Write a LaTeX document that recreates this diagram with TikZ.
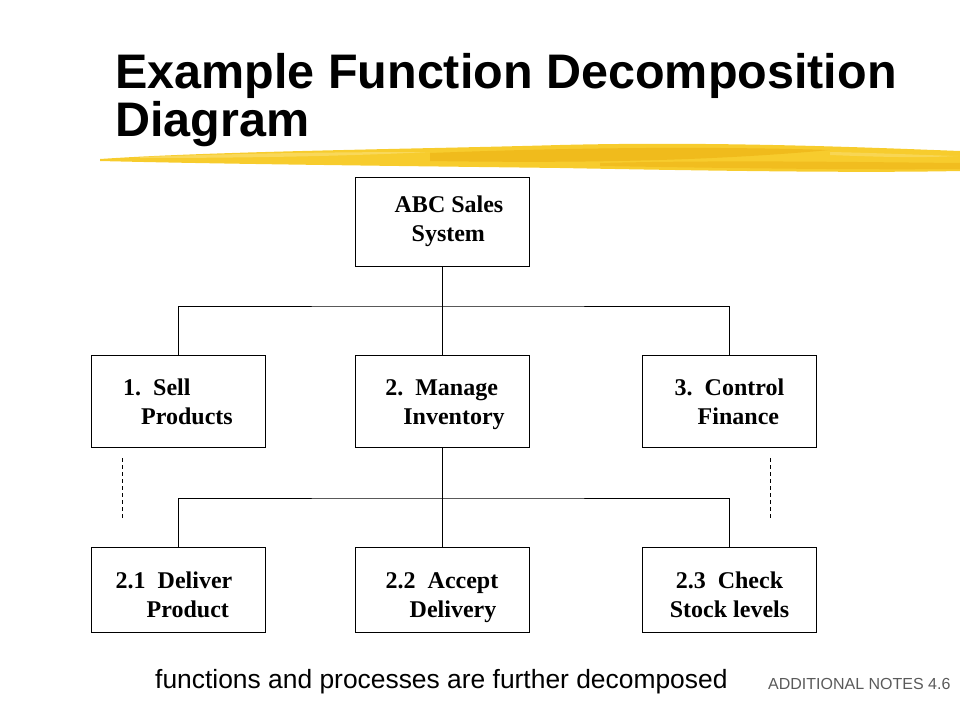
\documentclass[tikz,border=0pt]{standalone}
\usepackage{fontspec}
\setmainfont{Liberation Serif}
\newfontfamily\arialfont{Liberation Sans}
\definecolor{brushgold}{RGB}{247,204,45}
\definecolor{brushdark}{RGB}{238,180,22}
\definecolor{brushlight}{RGB}{250,222,110}
\definecolor{notegray}{RGB}{90,90,90}
\tikzset{
  fbox/.style={draw,line width=1pt,minimum width=174pt,minimum height=92pt,inner sep=0pt,
    font=\fontsize{24}{29}\selectfont\bfseries,align=left,text height=55pt,text depth=10pt},
  lowbox/.style={fbox,minimum height=85pt,text height=65pt},
  link/.style={line width=1pt},
  more/.style={line width=1pt,dash pattern=on 4pt off 3pt},
}
\begin{document}
\begin{tikzpicture}[x=1pt,y=-1pt]
	\useasboundingbox (0,0) rectangle (960,720);

	% Title and brush stroke
	\node[anchor=base west,font=\arialfont\bfseries\fontsize{48.5}{48}\selectfont,align=left,inner sep=0pt] (title) at (115,136) {Example Function Decomposition\\Diagram};
	\fill[brushgold] (100,159) .. controls (220,151) and (420,149) .. (560,145)
		.. controls (720,141) and (880,148) .. (960,151) -- (960,171)
		.. controls (860,173) and (720,171) .. (560,168)
		.. controls (400,166) and (220,164) .. (100,161) -- cycle;
	\fill[brushdark,opacity=0.7] (430,153) .. controls (560,148) and (700,146) .. (830,150)
		.. controls (700,162) and (560,163) .. (430,161) -- cycle;
	\fill[brushdark,opacity=0.6] (600,163) .. controls (720,160) and (850,162) .. (960,163)
		-- (960,169) .. controls (850,170) and (720,168) .. (600,166) -- cycle;
	\fill[brushlight,opacity=0.7] (140,157) .. controls (250,153) and (350,152) .. (430,152)
		.. controls (350,156) and (250,158) .. (140,158) -- cycle;
	\fill[brushlight,opacity=0.6] (830,152) .. controls (880,153) and (920,155) .. (958,156)
		.. controls (920,158) and (880,157) .. (830,155) -- cycle;

	% Function boxes
	\node[fbox,minimum height=89pt,text height=49pt] (abc) at (442,221.5) {\hspace*{14pt}ABC Sales\\\hspace*{31pt}System};
	\node[fbox] (b1) at (178,401.5) {1.\ \ Sell\\\hspace*{18pt}Products};
	\node[fbox] (b2) at (442,401.5) {\hspace*{6pt}2.\ \ Manage\\\hspace*{24pt}Inventory};
	\node[fbox] (b3) at (729.5,401.5) {3.\ \ Control\\\hspace*{23pt}Finance};
	\node[lowbox] (c1) at (178,589.5) {2.1\ \ Deliver\hspace*{8pt}\\\hspace*{31pt}Product};
	\node[lowbox] (c2) at (442,589.5) {2.2\ \ Accept\\\hspace*{24pt}Delivery};
	\node[lowbox,align=center] (c3) at (729.5,589.5) {2.3\ \ Check\\Stock levels};

	% Connectors
	\coordinate (j1) at (442,306);
	\coordinate (j2) at (442,498);
	\draw[link] (abc.south) -- (j1);
	\draw[link] (b1.north) |- (j1) -| (b3.north);
	\draw[link] (j1) -- (b2.north);
	\draw[link] (c1.north) |- (j2) -| (c3.north);
	\draw[link] (b2.south) -- (c2.north);

	% Further decomposition
	\coordinate (d1) at (122,458);
	\coordinate (d2) at (770,458);
	\draw[more] (d1) -- ++(0,61);
	\draw[more] (d2) -- ++(0,61);

	% Notes
	\node[anchor=base west,inner sep=0pt,font=\arialfont\fontsize{26.4}{26}\selectfont] (note) at (155,688) {functions and processes are further decomposed};
	\node[anchor=base west,inner sep=0pt,font=\arialfont\fontsize{16}{16}\selectfont,text=notegray] (ref) at (768,689) {ADDITIONAL NOTES 4.6};
\end{tikzpicture}
\end{document}
